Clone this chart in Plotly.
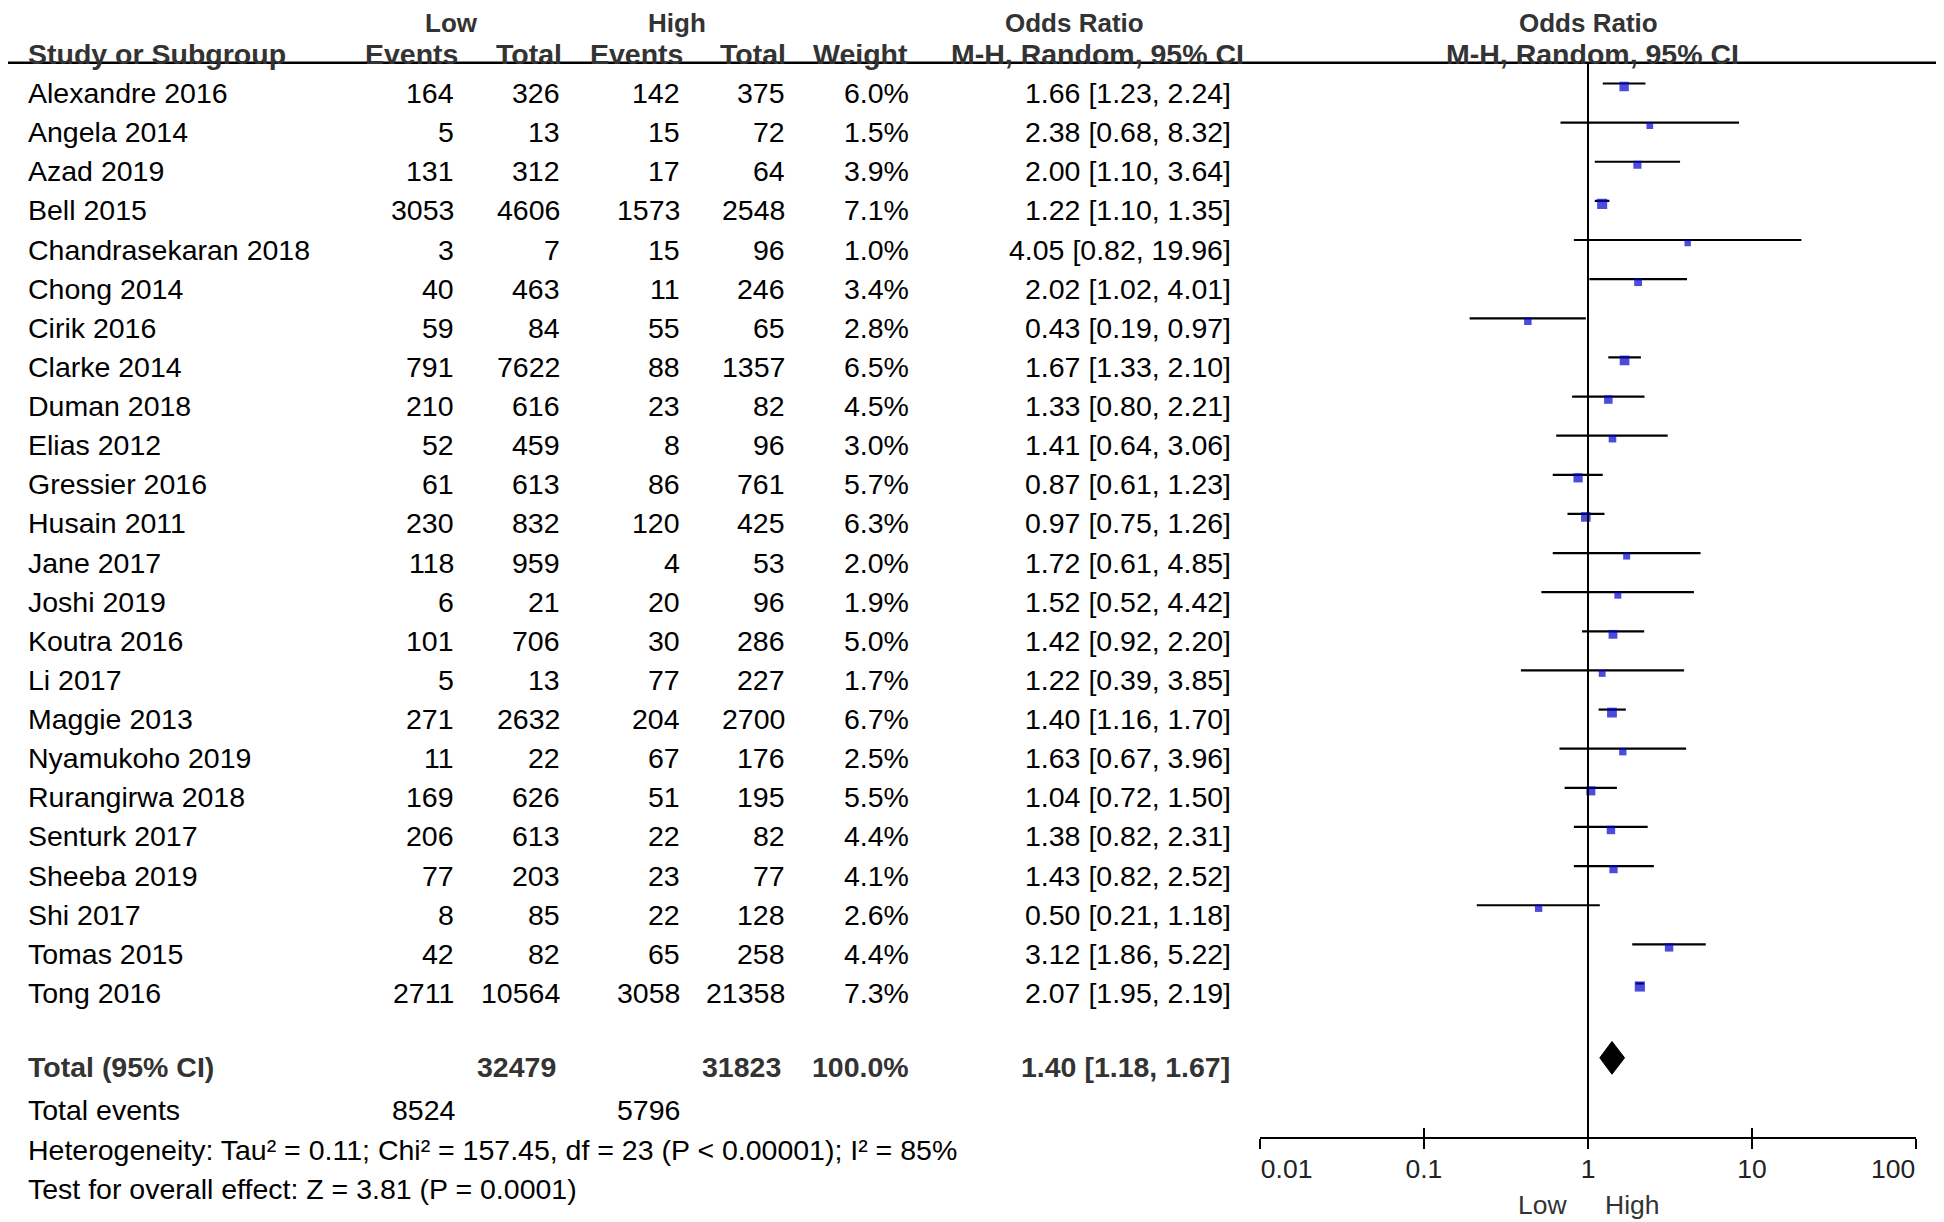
import plotly.graph_objects as go

# ---------------- data ----------------
studies = ["Alexandre 2016", "Angela 2014", "Azad 2019", "Bell 2015", "Chandrasekaran 2018",
           "Chong 2014", "Cirik 2016", "Clarke 2014", "Duman 2018", "Elias 2012",
           "Gressier 2016", "Husain 2011", "Jane 2017", "Joshi 2019", "Koutra 2016",
           "Li 2017", "Maggie 2013", "Nyamukoho 2019", "Rurangirwa 2018", "Senturk 2017",
           "Sheeba 2019", "Shi 2017", "Tomas 2015", "Tong 2016"]
low_events = [164, 5, 131, 3053, 3, 40, 59, 791, 210, 52, 61, 230, 118, 6, 101, 5, 271, 11, 169, 206, 77, 8, 42, 2711]
low_total = [326, 13, 312, 4606, 7, 463, 84, 7622, 616, 459, 613, 832, 959, 21, 706, 13, 2632, 22, 626, 613, 203, 85, 82, 10564]
high_events = [142, 15, 17, 1573, 15, 11, 55, 88, 23, 8, 86, 120, 4, 20, 30, 77, 204, 67, 51, 22, 23, 22, 65, 3058]
high_total = [375, 72, 64, 2548, 96, 246, 65, 1357, 82, 96, 761, 425, 53, 96, 286, 227, 2700, 176, 195, 82, 77, 128, 258, 21358]
weights = [6.0, 1.5, 3.9, 7.1, 1.0, 3.4, 2.8, 6.5, 4.5, 3.0, 5.7, 6.3, 2.0, 1.9, 5.0, 1.7, 6.7, 2.5, 5.5, 4.4, 4.1, 2.6, 4.4, 7.3]
odds = [1.66, 2.38, 2.00, 1.22, 4.05, 2.02, 0.43, 1.67, 1.33, 1.41, 0.87, 0.97, 1.72, 1.52, 1.42, 1.22, 1.40, 1.63, 1.04, 1.38, 1.43, 0.50, 3.12, 2.07]
ci_low = [1.23, 0.68, 1.10, 1.10, 0.82, 1.02, 0.19, 1.33, 0.80, 0.64, 0.61, 0.75, 0.61, 0.52, 0.92, 0.39, 1.16, 0.67, 0.72, 0.82, 0.82, 0.21, 1.86, 1.95]
ci_high = [2.24, 8.32, 3.64, 1.35, 19.96, 4.01, 0.97, 2.10, 2.21, 3.06, 1.23, 1.26, 4.85, 4.42, 2.20, 3.85, 1.70, 3.96, 1.50, 2.31, 2.52, 1.18, 5.22, 2.19]

total_low_n = 32479
total_high_n = 31823
total_low_events = 8524
total_high_events = 5796
total_weight = 100.0
total_or, total_lo, total_hi = 1.40, 1.18, 1.67
heterogeneity = "Heterogeneity: Tau\u00b2 = 0.11; Chi\u00b2 = 157.45, df = 23 (P < 0.00001); I\u00b2 = 85%"
overall = "Test for overall effect: Z = 3.81 (P = 0.0001)"

tick_vals = [0.01, 0.1, 1, 10, 100]
tick_labels = ["0.01", "0.1", "1", "10", "100"]

# ---------------- geometry / style ----------------
PAGE_W, PAGE_H = 1944, 1222
OFF = 8                      # default body margin of the html page
W, H = PAGE_W - OFF, PAGE_H - OFF
ROW0, ROWH = 93.0, 39.13     # page pixel of first row, row spacing


def prow(py):
    """page pixel y -> row units"""
    return (py - ROW0) / ROWH


def px(x):
    """page pixel x -> paper fraction"""
    return (x - OFF) / W


FONT = "Liberation Sans, Arial, Helvetica, sans-serif"
FS = 28.5
HDR1_FS = 26
AX_FS = 26.5
BOLD_C = "#333333"
TXT_C = "#000000"

rows = list(range(len(studies)))
total_row = 24.9
events_row = 26.0
het_row = 27.0
test_row = 28.0
hdr1 = prow(23)
hdr2 = prow(54)
hdr_line = -0.77
axis_py = 1138
FOREST_SHIFT = 9.5   # forest graphics sit slightly above the text rows
TICKLEN = 10

fig = go.Figure()

# CI lines
cx, cy = [], []
for r, lo, hi in zip(rows, ci_low, ci_high):
    cx += [lo, hi, None]
    cy += [r, r, None]
fig.add_trace(go.Scatter(x=cx, y=cy, mode="lines", line=dict(color="black", width=2.2),
                         hoverinfo="skip", showlegend=False, xaxis="x", yaxis="y"))

# squares (size by weight)
sizes = [5.8 + 0.6 * w for w in weights]
fig.add_trace(go.Scatter(x=odds, y=[r + 0.077 for r in rows], mode="markers",
                         marker=dict(symbol="square", size=sizes, color="#0000cc",
                                     line=dict(width=0)),
                         showlegend=False, xaxis="x", yaxis="y"))

# pooled diamond
dh = 0.42
fig.add_trace(go.Scatter(x=[total_lo, total_or, total_hi, total_or, total_lo],
                         y=[total_row, total_row - dh, total_row, total_row + dh, total_row],
                         mode="lines", fill="toself", fillcolor="black",
                         line=dict(color="black", width=1), showlegend=False,
                         hoverinfo="skip", xaxis="x3", yaxis="y"))

# vertical line of no effect
fig.add_trace(go.Scatter(x=[1, 1], y=[hdr_line, prow(axis_py)], mode="lines",
                         line=dict(color="black", width=2), showlegend=False,
                         hoverinfo="skip", xaxis="x2", yaxis="y2"))

ann = []


def txt(s, x, y, anchor="left", bold=False, size=FS, color=None):
    ann.append(dict(text=("<b>%s</b>" % s) if bold else s, x=px(x), y=y, xref="paper", yref="y2",
                    xanchor=anchor, yanchor="middle", showarrow=False,
                    font=dict(family=FONT, size=size, color=color or (BOLD_C if bold else TXT_C))))


# headers
txt("Low", 451, hdr1, "center", True, HDR1_FS)
txt("High", 677, hdr1, "center", True, HDR1_FS)
txt("Odds Ratio", 1074, hdr1, "center", True, HDR1_FS)
txt("Odds Ratio", 1588, hdr1, "center", True, HDR1_FS)
txt("Study or Subgroup", 26, hdr2, "left", True)
txt("Events", 460, hdr2, "right", True)
txt("Total", 564, hdr2, "right", True)
txt("Events", 685, hdr2, "right", True)
txt("Total", 788, hdr2, "right", True)
txt("Weight", 910, hdr2, "right", True)
txt("M-H, Random, 95% CI", 1097, hdr2, "center", True)
txt("M-H, Random, 95% CI", 1592, hdr2, "center", True)

# study rows
for i, r in enumerate(rows):
    txt(studies[i], 26, r, "left")
    txt(str(low_events[i]), 456, r, "right")
    txt(str(low_total[i]), 562, r, "right")
    txt(str(high_events[i]), 682, r, "right")
    txt(str(high_total[i]), 787, r, "right")
    txt("%.1f%%" % weights[i], 911, r, "right")
    txt("%.2f [%.2f, %.2f]" % (odds[i], ci_low[i], ci_high[i]), 1233, r, "right")

# totals
txt("Total (95% CI)", 26, total_row, "left", True)
txt(str(total_low_n), 558, total_row, "right", True)
txt(str(total_high_n), 783, total_row, "right", True)
txt("%.1f%%" % total_weight, 911, total_row, "right", True)
txt("%.2f [%.2f, %.2f]" % (total_or, total_lo, total_hi), 1232, total_row, "right", True)
txt("Total events", 26, events_row, "left")
txt(str(total_low_events), 458, events_row, "right")
txt(str(total_high_events), 682, events_row, "right")
txt(heterogeneity, 26, het_row, "left")
txt(overall, 26, test_row, "left")

# Low / High under axis
ann.append(dict(text="Low", x=0, y=prow(1205), xref="x", yref="y2", xanchor="right",
                yanchor="middle", xshift=-19, showarrow=False,
                font=dict(family=FONT, size=AX_FS, color="#333333")))
ann.append(dict(text="High", x=0, y=prow(1205), xref="x", yref="y2", xanchor="left",
                yanchor="middle", xshift=15, showarrow=False,
                font=dict(family=FONT, size=AX_FS, color="#333333")))

shapes = [dict(type="line", xref="paper", yref="y2", x0=0, x1=1, y0=hdr_line, y1=hdr_line,
               line=dict(color="black", width=2.5))]

xdom = [px(1259.8), px(1916.2)]
axis_pos = 1 - (axis_py - OFF) / H
common_x = dict(type="log", range=[-2, 2], domain=xdom, anchor="free", position=axis_pos,
                showgrid=False, zeroline=False, fixedrange=True, automargin=False,
                tickwidth=2, tickcolor="black", ticklen=TICKLEN,
                tickfont=dict(family=FONT, size=AX_FS, color="#222222"),
                ticklabeloverflow="allow")

mid_text = [t if 0 < i < len(tick_labels) - 1 else "" for i, t in enumerate(tick_labels)]
first_text = [t if i == 0 else "" for i, t in enumerate(tick_labels)]

fig.update_layout(
    width=W, height=H, margin=dict(l=0, r=0, t=0, b=0, pad=0, autoexpand=False),
    paper_bgcolor="white", plot_bgcolor="rgba(0,0,0,0)",
    # main axis: line, downward ticks, centred middle labels
    xaxis=dict(**common_x, tickvals=tick_vals, ticktext=mid_text, showline=True,
               linecolor="black", linewidth=2, ticks="outside", ticklabelstandoff=-3),
    # upward ticks + first label starting at its tick
    xaxis2=dict(**common_x, overlaying="x", tickvals=tick_vals, ticktext=first_text,
                showline=False, ticks="inside", ticklabelposition="outside right",
                ticklabelstandoff=TICKLEN + 2),
    # last label ending at its tick
    xaxis3=dict(**common_x, overlaying="x", tickvals=tick_vals[-1:], ticktext=tick_labels[-1:],
                showline=False, ticks="outside", ticklabelposition="outside left",
                ticklabelstandoff=7),
    yaxis=dict(range=[prow(PAGE_H + FOREST_SHIFT), prow(OFF + FOREST_SHIFT)], domain=[0, 1],
               visible=False, fixedrange=True, automargin=False),
    yaxis2=dict(range=[prow(PAGE_H), prow(OFF)], domain=[0, 1], overlaying="y", visible=False,
                fixedrange=True, automargin=False),
    annotations=ann, shapes=shapes, showlegend=False,
)

fig.write_html("out.html")
